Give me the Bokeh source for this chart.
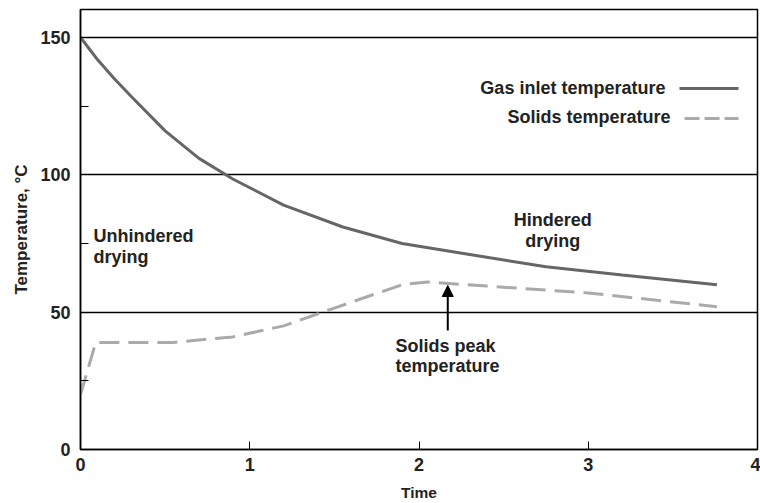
from bokeh.plotting import figure
from bokeh.models import FixedTicker, Label, Arrow, NormalHead, Range1d
from bokeh.embed import file_html
from bokeh.resources import INLINE

# ---- data ----
gas_time = [0, 0.1, 0.2, 0.3, 0.5, 0.7, 0.9, 1.2, 1.55, 1.9, 2.3, 2.75, 3.2, 3.76]
gas_temp = [150, 142, 135, 128.5, 116, 106, 98.5, 89, 81, 75, 71, 66.5, 63.5, 60]

solids_time = [0, 0.09, 0.55, 0.9, 1.2, 1.5, 1.9, 2.05, 2.4, 3.0, 3.76]
solids_temp = [20, 39, 39, 41, 45, 51.5, 60, 61, 59.5, 57, 52]

x_ticks = [0, 1, 2, 3, 4]
y_ticks = [0, 50, 100, 150]
y_minor_ticks = [25, 75, 125]

peak_x = 2.17
peak_y = 60

FONT = "Liberation Sans"
TXT = "#222222"
GAS_COLOR = "#666666"
SOL_COLOR = "#aaaaaa"

p = figure(width=760, height=503, output_backend="svg", toolbar_location=None,
           x_range=Range1d(0, 4), y_range=Range1d(0, 160.2),
           min_border_left=80, min_border_right=3, min_border_top=9, min_border_bottom=54)

p.line(gas_time, gas_temp, line_color=GAS_COLOR, line_width=3)
p.line(solids_time, solids_temp, line_color=SOL_COLOR, line_width=3, line_dash="20 9")

# axes
p.xaxis.ticker = FixedTicker(ticks=x_ticks, minor_ticks=[])
p.yaxis.ticker = FixedTicker(ticks=y_ticks, minor_ticks=y_minor_ticks)
for ax in (p.xaxis, p.yaxis):
    ax.axis_line_color = "black"
    ax.axis_line_width = 1.5
    ax.major_tick_in = 8
    ax.major_tick_out = 0
    ax.minor_tick_in = 8
    ax.minor_tick_out = 0
    ax.major_tick_line_color = "black"
    ax.minor_tick_line_color = "black"
    ax.major_label_text_font = FONT
    ax.major_label_text_font_style = "bold"
    ax.major_label_text_font_size = "18px"
    ax.major_label_text_color = TXT
    ax.axis_label_text_font = FONT
    ax.axis_label_text_font_style = "bold"
    ax.axis_label_text_color = TXT
p.xaxis.axis_label = "Time"
p.yaxis.axis_label = "Temperature, °C"
p.xaxis.axis_label_text_font_size = "15.5px"
p.yaxis.axis_label_text_font_size = "17px"
p.xaxis.major_label_standoff = 8
p.yaxis.major_label_standoff = 10
p.xaxis.axis_label_standoff = 10
p.yaxis.axis_label_standoff = 6

p.xgrid.grid_line_color = None
p.ygrid.ticker = FixedTicker(ticks=[50, 100, 150])
p.ygrid.grid_line_color = "black"
p.ygrid.grid_line_width = 1.3
p.outline_line_color = "black"
p.outline_line_width = 1.5
p.outline_line_alpha = 1.0

def label(x, y, text, align="left"):
    p.add_layout(Label(x=x, y=y, text=text, text_font=FONT, text_font_style="bold",
                       text_font_size="18px", text_color=TXT, text_align=align,
                       text_baseline="alphabetic"))

label(0.077, 77.6, "Unhindered")
label(0.077, 70.2, "drying")
label(2.79, 83.7, "Hindered", "center")
label(2.79, 76.0, "drying", "center")
label(1.861, 37.6, "Solids peak")
label(1.861, 30.3, "temperature")

p.add_layout(Arrow(end=NormalHead(size=11, fill_color="black", line_color="black"),
                   x_start=peak_x, y_start=43.3, x_end=peak_x, y_end=peak_y - 0.3,
                   line_color="black", line_width=2))

# legend (manual, label to the left of the sample)
label(3.456, 131.8, "Gas inlet temperature", "right")
p.line([3.539, 3.888], [131.4, 131.4], line_color=GAS_COLOR, line_width=3)
label(3.486, 120.9, "Solids temperature", "right")
p.line([3.569, 3.888], [120.5, 120.5], line_color=SOL_COLOR, line_width=3, line_dash="15 5")

open("out.html", "w").write(file_html(p, INLINE))
